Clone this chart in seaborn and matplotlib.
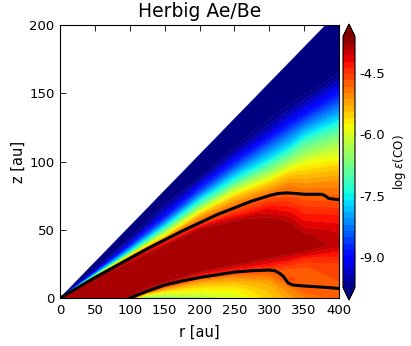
# -*- coding: utf-8 -*-
import numpy as np
import matplotlib
matplotlib.use('Agg')
import matplotlib.pyplot as plt
import seaborn as sns

# %% Data, log eps(CO) on a radius / (z/r) grid
radii = [1, 50, 90, 100, 110, 125, 150, 200, 250, 300, 330, 350, 400]
z_over_r = [0, .02, .04, .06, .08, .10, .13, .16, .19, .22, .25, .28, .30, .32, .34, .36, .38, .40, .42, .45, .48, .525]

log_co_r1 = [-3.8, -3.8, -3.8, -3.8, -3.8, -3.8, -3.8, -3.8, -3.8, -3.8, -3.8, -3.8, -4.5, -6.2, -7.5, -8.2, -8.8, -9.2, -9.6, -10, -10.5, -11]
log_co_r50 = [-3.8, -3.8, -3.8, -3.8, -3.8, -3.8, -3.8, -3.8, -3.8, -3.8, -3.8, -3.8, -4.5, -6.2, -7.5, -8.2, -8.8, -9.2, -9.6, -10, -10.5, -11]
log_co_r90 = [-3.8, -3.8, -3.8, -3.8, -3.8, -3.8, -3.8, -3.8, -3.8, -3.8, -3.8, -4.1, -5.2, -6.3, -7.5, -8.1, -8.7, -9.2, -9.5, -9.9, -10.4, -11]
log_co_r100 = [-4.2, -3.8, -3.8, -3.8, -3.8, -3.8, -3.8, -3.8, -3.8, -3.8, -3.8, -4.1, -5.2, -6.3, -7.5, -8.1, -8.7, -9.2, -9.5, -9.9, -10.4, -11]
log_co_r110 = [-5.5, -4.5, -3.8, -3.8, -3.8, -3.8, -3.8, -3.8, -3.8, -3.8, -3.8, -4.2, -5.3, -6.3, -7.4, -8, -8.6, -9.1, -9.5, -9.8, -10.3, -10.8]
log_co_r125 = [-6.6, -5.8, -4.5, -3.8, -3.8, -3.8, -3.8, -3.8, -3.8, -3.8, -3.8, -4.3, -5.4, -6.3, -7.3, -8, -8.6, -9, -9.4, -9.7, -10.1, -10.6]
log_co_r150 = [-6.5, -6, -5.4, -4.5, -3.8, -3.8, -3.8, -3.8, -3.8, -3.8, -3.8, -4.5, -5.6, -6.3, -7.2, -7.9, -8.5, -9, -9.3, -9.6, -10, -10.5]
log_co_r200 = [-6.3, -5.9, -5.6, -5.2, -4.4, -3.8, -3.8, -3.8, -3.8, -3.8, -3.85, -4.8, -5.3, -6, -6.9, -7.6, -8.3, -8.8, -9.3, -9.9, -10.2, -10.5]
log_co_r250 = [-6, -5.8, -5.5, -5.1, -4.4, -3.8, -3.8, -3.8, -3.8, -3.8, -4.5, -5.1, -5.6, -6.3, -7.2, -7.8, -8.4, -8.9, -9.4, -9.9, -10.2, -10.5]
log_co_r300 = [-5.5, -5.4, -5.2, -4.8, -4.3, -3.85, -3.8, -3.8, -3.8, -4.25, -4.8, -5.5, -6.2, -6.9, -7.6, -8.1, -8.6, -9.2, -9.55, -9.9, -10.2, -10.5]
log_co_r330 = [-5.2, -5, -4.6, -4.75, -4.35, -3.85, -3.8, -3.8, -4.2, -4.6, -5, -5.6, -6.3, -7, -7.7, -8.2, -8.7, -9.2, -9.6, -10, -10.3, -10.6]
log_co_r350 = [-5, -4.7, -4.75, -4.7, -4.45, -3.8, -3.85, -4.2, -4.5, -4.85, -5.3, -5.8, -6.4, -6.9, -7.6, -8.2, -8.8, -9.3, -9.7, -10, -10.3, -10.7]
log_co_r400 = [-4.7, -4.7, -4.65, -4.55, -4.3, -3.95, -4.15, -4.45, -4.85, -5.2, -5.7, -6.3, -6.8, -7.4, -8, -8.5, -9, -9.5, -9.9, -10.2, -10.5, -11]

# black contour lines
upper_r = [0, 25, 50, 75, 100, 125, 150, 175, 200, 225, 250, 275, 300, 312, 325, 340, 350, 375, 380, 385, 392, 400]
upper_z = [0, 7.5, 15, 22, 29, 36, 42.5, 49, 55, 61, 66, 71, 75, 76.5, 77, 76.5, 76, 76, 75, 73, 72.5, 72]
lower_r = [100, 110, 125, 150, 175, 200, 225, 250, 275, 300, 308, 315, 320, 327, 334, 350, 375, 400]
lower_z = [0, 2, 5, 9.5, 12.5, 15, 17, 19, 20, 20.5, 20, 18, 16, 11, 9.5, 8.8, 8, 7]

r_ticks = [0, 50, 100, 150, 200, 250, 300, 350, 400]
z_ticks = [0, 50, 100, 150, 200]
cbar_ticks = [-9.0, -7.5, -6.0, -4.5]

# %% Style
sns.set_style('ticks', {'xtick.direction': 'in', 'ytick.direction': 'in',
                        'xtick.top': True, 'ytick.right': True,
                        'axes.edgecolor': 'black', 'text.color': 'black',
                        'axes.labelcolor': 'black', 'xtick.color': 'black',
                        'ytick.color': 'black'})
plt.rcParams['font.family'] = 'DejaVu Sans'
plt.rcParams['axes.unicode_minus'] = False

# %% Plot
log_co = np.array([log_co_r1, log_co_r50, log_co_r90, log_co_r100, log_co_r110, log_co_r125, log_co_r150,
                   log_co_r200, log_co_r250, log_co_r300, log_co_r330, log_co_r350, log_co_r400])
R, Q = np.meshgrid(radii, z_over_r, indexing='ij')

fig = plt.figure(figsize=(4.11, 3.46), dpi=100)
ax = fig.add_axes([60 / 411, 48 / 346, 279 / 411, 273 / 346])
cax = fig.add_axes([343 / 411, 46 / 346, 12 / 411, 276 / 346])

levels = np.linspace(-9.75, -3.6, 41)
cf = ax.contourf(R, R * Q, log_co, levels=levels, cmap='jet', extend='both', antialiased=True)
cf.set_edgecolor('face')
cf.set_linewidth(0.3)

sns.lineplot(x=upper_r, y=upper_z, sort=False, color='black', linewidth=2.2, ax=ax, estimator=None)
sns.lineplot(x=lower_r, y=lower_z, sort=False, color='black', linewidth=2.2, ax=ax, estimator=None)

ax.set_xlim(0, 400)
ax.set_ylim(0, 200)
ax.set_xticks(r_ticks)
ax.set_yticks(z_ticks)
ax.tick_params(labelsize=9.5, length=4, width=0.6, color='black', pad=4)
ax.set_xlabel('r [au]', fontsize=10.5, labelpad=6)
ax.set_ylabel('z [au]', fontsize=10.5, labelpad=2)
ax.set_title('Herbig Ae/Be', fontsize=13.5, pad=6)
for s in ax.spines.values():
    s.set_linewidth(0.8)

cb = fig.colorbar(cf, cax=cax, ticks=cbar_ticks, format='%.1f')
cb.ax.tick_params(labelsize=9.5, length=3, width=0.6, direction='in', pad=3)
cb.set_label(r'log $\epsilon$(CO)', fontsize=8.5, labelpad=4)

fig.savefig('out.png', dpi=100)
